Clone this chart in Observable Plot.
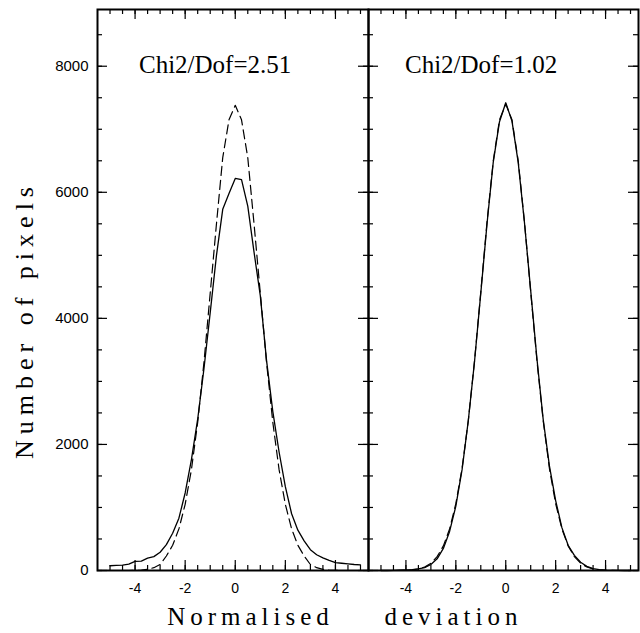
<!DOCTYPE html>
<html><head><meta charset="utf-8">
<script src="https://cdn.jsdelivr.net/npm/d3@7"></script>
<script src="https://cdn.jsdelivr.net/npm/@observablehq/plot@0.6"></script>
<style>
body{margin:0;background:#fff;}
#wrap{position:relative;width:640px;height:633px;overflow:hidden;background:#fff;}
#wrap svg{position:absolute;top:0;}
.lbl{position:absolute;font-family:'Liberation Serif','DejaVu Serif',serif;color:#000;white-space:nowrap;}
.title{font-size:25px;line-height:25px;top:52px;}
.word{font-size:25px;line-height:22px;top:606px;width:300px;text-align:center;letter-spacing:5px;padding-left:5px;box-sizing:border-box;}
.ylab{font-size:26px;line-height:30px;width:400px;text-align:center;letter-spacing:6px;left:-175px;top:305px;transform:rotate(-90deg);transform-origin:50% 50%;}
</style></head><body><div id="wrap"></div>
<script>
// Normalised deviation grid (bin centres)
const xGrid = [-5.00,-4.75,-4.50,-4.25,-4.00,-3.75,-3.50,-3.25,-3.00,-2.75,-2.50,-2.25,-2.00,-1.75,-1.50,-1.25,-1.00,-0.75,-0.50,-0.25,0.00,0.25,0.50,0.75,1.00,1.25,1.50,1.75,2.00,2.25,2.50,2.75,3.00,3.25,3.50,3.75,4.00,4.25,4.50,4.75,5.00];
// Left panel: observed (solid) and model (dashed)
const leftObserved = [75,80,85,100,145,150,195,220,290,410,590,830,1230,1760,2400,3200,4090,5000,5730,5980,6220,6200,5780,5050,4360,3330,2520,1880,1330,900,640,470,330,250,200,160,125,115,105,95,90];
const leftModel = [0,0,0,0,2,6,18,45,95,230,400,660,1050,1600,2350,3300,4400,5500,6550,7150,7380,7150,6550,5500,4400,3300,2350,1600,1050,660,400,230,95,45,18,6,2,0,0,0,0];
// Right panel: observed (solid) and model (dashed)
const rightObserved = [0,0,2,4,8,14,25,45,95,185,350,620,1020,1600,2380,3320,4400,5500,6480,7120,7420,7130,6470,5520,4440,3360,2400,1660,1110,680,400,240,130,65,30,14,6,3,1,0,0];
const rightModel = [0,0,0,1,4,10,25,55,115,220,390,660,1060,1620,2380,3330,4420,5530,6500,7150,7400,7150,6500,5530,4420,3330,2380,1620,1060,660,390,220,115,55,25,10,4,1,0,0,0];

const panelTitles = ["Chi2/Dof=2.51", "Chi2/Dof=1.02"];
const xMajorTicks = [-4,-2,0,2,4];
const xMinorTicks = [-5,-4.5,-4,-3.5,-3,-2.5,-2,-1.5,-1,-0.5,0,0.5,1,1.5,2,2.5,3,3.5,4,4.5,5];
const yMajorTicks = [0,2000,4000,6000,8000];
const yMinorTicks = [0,500,1000,1500,2000,2500,3000,3500,4000,4500,5000,5500,6000,6500,7000,7500,8000,8500];
const xLabelWords = ["Normalised", "deviation"];
const yLabel = "Number of pixels";

const xDomain = [-5.5, 5.32];
const yDomain = [0, 8900];
const H = 633, MT = 9, MB = 63;
const plotH = H - MT - MB;
const wrap = document.getElementById("wrap");
const baseStyle = {background: "transparent", overflow: "visible", fontFamily: "'Liberation Sans', Arial, sans-serif", color: "black"};

function panel(opts) {
  const plotW = opts.width - opts.mLeft - opts.mRight;
  const common = {
    width: opts.width, height: H,
    marginLeft: opts.mLeft, marginRight: opts.mRight, marginTop: MT, marginBottom: MB,
    x: {domain: xDomain}
  };
  // curves, tick labels and frame
  const marks = [
    Plot.line(xGrid, {x: xGrid, y: opts.model, stroke: "black", strokeWidth: 1.2, strokeDasharray: "9,5"}),
    Plot.line(xGrid, {x: xGrid, y: opts.observed, stroke: "black", strokeWidth: 1.3}),
    Plot.axisX({anchor: "bottom", ticks: xMajorTicks, tickSize: 0, tickPadding: 13, tickFormat: d => String(d), label: null, fontSize: 14})
  ];
  if (opts.showY) {
    marks.push(Plot.axisY({anchor: "left", ticks: yMajorTicks, tickSize: 0, tickPadding: 9, tickFormat: d => String(d), label: null, fontSize: 15}));
  }
  marks.push(Plot.frame({stroke: "black", strokeWidth: 2}));
  const svg = Plot.plot({...common, y: opts.showY ? {domain: yDomain} : {domain: yDomain, axis: null}, style: baseStyle, marks});
  svg.style.left = opts.left + "px";
  wrap.appendChild(svg);

  // inward tick marks on all four sides, in an overlay drawn with the same scales
  const st = {stroke: "black", strokeWidth: 1.2};
  const tickSvg = Plot.plot({
    ...common, y: {domain: yDomain, axis: null}, style: {...baseStyle, pointerEvents: "none"},
    marks: [
      Plot.tickX(xMinorTicks, {x: d => d, insetTop: plotH - 5, ...st}),
      Plot.tickX(xMajorTicks, {x: d => d, insetTop: plotH - 10, ...st}),
      Plot.tickX(xMinorTicks, {x: d => d, insetBottom: plotH - 5, ...st}),
      Plot.tickX(xMajorTicks, {x: d => d, insetBottom: plotH - 10, ...st}),
      Plot.tickY(yMinorTicks, {y: d => d, insetRight: plotW - 5, ...st}),
      Plot.tickY(yMajorTicks, {y: d => d, insetRight: plotW - 10, ...st}),
      Plot.tickY(yMinorTicks, {y: d => d, insetLeft: plotW - 5, ...st}),
      Plot.tickY(yMajorTicks, {y: d => d, insetLeft: plotW - 10, ...st}),
      Plot.axisX({anchor: "bottom", ticks: [], tickSize: 0, label: null})
    ]
  });
  tickSvg.style.left = opts.left + "px";
  wrap.appendChild(tickSvg);
}

function label(text, cls, css) {
  const d = document.createElement("div");
  d.className = "lbl " + cls;
  d.textContent = text;
  Object.assign(d.style, css || {});
  wrap.appendChild(d);
}

panel({observed: leftObserved, model: leftModel, left: 0, width: 368, mLeft: 97, mRight: 0, showY: true});
panel({observed: rightObserved, model: rightModel, left: 368, width: 272, mLeft: 0, mRight: 2, showY: false});

label(panelTitles[0], "title", {left: "139px"});
label(panelTitles[1], "title", {left: "405px"});
label(xLabelWords[0], "word", {left: "98px"});
label(xLabelWords[1], "word", {left: "301px"});
label(yLabel, "ylab");
</script></body></html>
